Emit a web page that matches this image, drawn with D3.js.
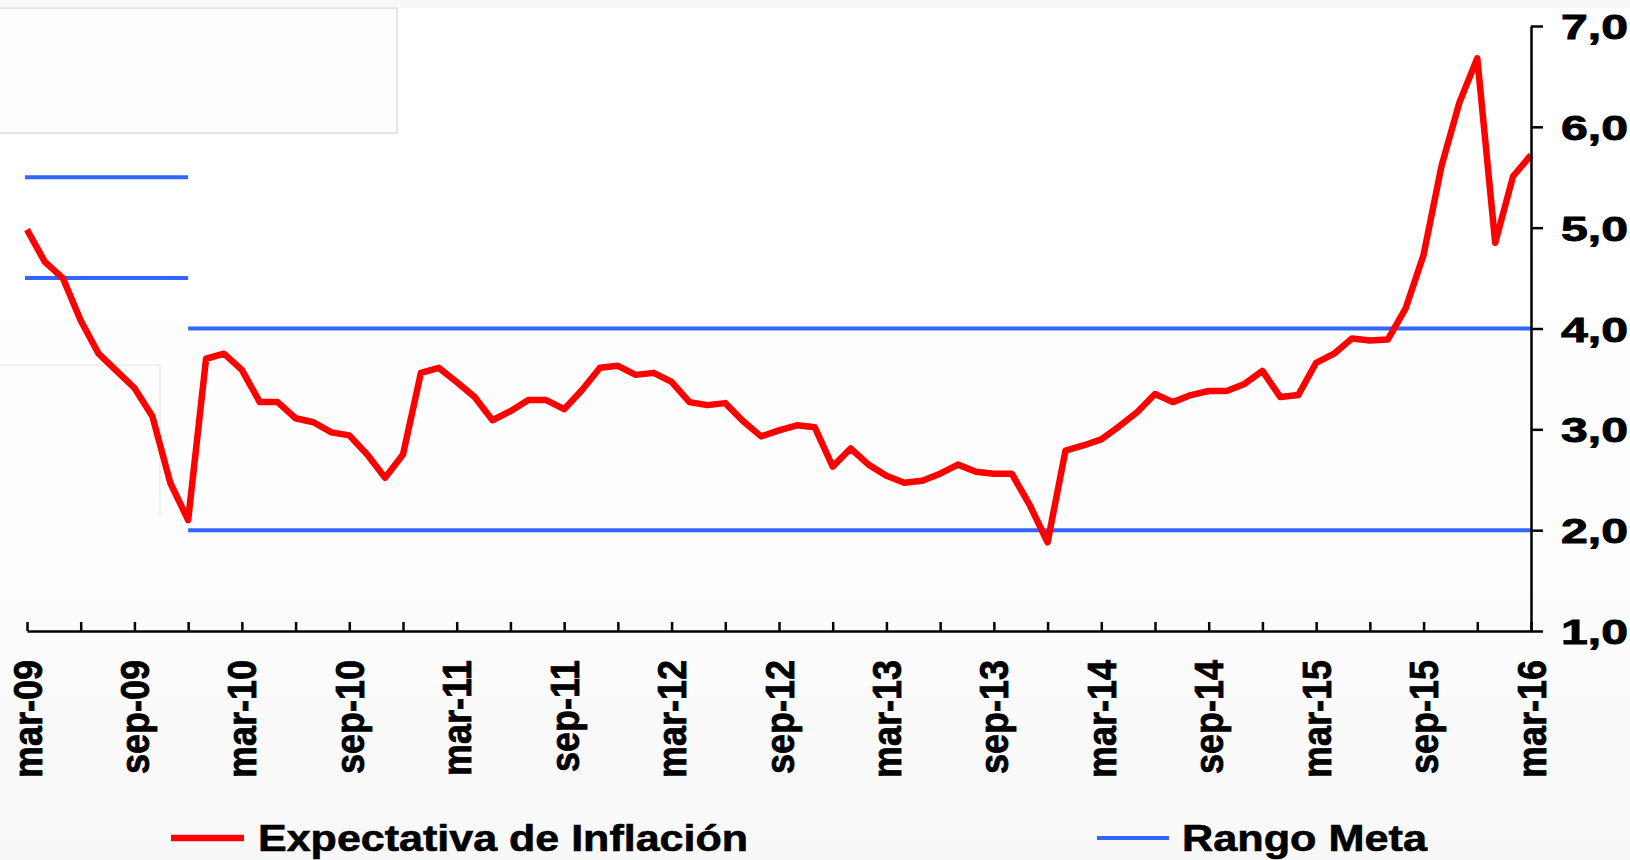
<!DOCTYPE html>
<html>
<head>
<meta charset="utf-8">
<script src="https://cdn.jsdelivr.net/npm/d3@7"></script>
<style>
  html, body { margin: 0; padding: 0; background: #ffffff; }
  svg { display: block; font-family: "Liberation Sans", Arial, sans-serif; }
</style>
</head>
<body>
<svg id="chart" width="1630" height="860"></svg>
<script>
// ---------------- DATA ----------------
const startDate = new Date(2009, 2, 1);   // mar-09
const endDate   = new Date(2016, 2, 1);   // mar-16
const months = d3.timeMonth.range(startDate, d3.timeMonth.offset(endDate, 1)); // 85 monthly categories

const expectativa = [
  4.98, 4.66, 4.50, 4.08, 3.75, 3.58, 3.41, 3.13, 2.47, 2.10,
  3.70, 3.75, 3.59, 3.27, 3.27, 3.11, 3.07, 2.97, 2.94, 2.75,
  2.52, 2.75, 3.56, 3.61, 3.47, 3.32, 3.09, 3.18, 3.29, 3.29,
  3.20, 3.39, 3.61, 3.63, 3.54, 3.56, 3.47, 3.27, 3.24, 3.26,
  3.08, 2.93, 2.99, 3.04, 3.02, 2.63, 2.81, 2.65, 2.54, 2.47,
  2.49, 2.56, 2.65, 2.58, 2.56, 2.56, 2.25, 1.88, 2.79, 2.84,
  2.90, 3.03, 3.17, 3.35, 3.27, 3.34, 3.38, 3.38, 3.45, 3.58,
  3.32, 3.34, 3.66, 3.75, 3.90, 3.88, 3.89, 4.20, 4.73, 5.61,
  6.24, 6.68, 4.85, 5.51, 5.72
];

// Rango Meta (target range) segments
const metaStart = [0, 9];      // month index where segment starts (mar-09, dic-09)
const metaEnd   = [9, 84];     // month index where segment ends   (dic-09, mar-16)
const metaLow   = [4.5, 2.0];
const metaHigh  = [5.5, 4.0];

const yTicks = [1, 2, 3, 4, 5, 6, 7];
const xTickLabels = ["mar-09","sep-09","mar-10","sep-10","mar-11","sep-11","mar-12",
                     "sep-12","mar-13","sep-13","mar-14","sep-14","mar-15","sep-15","mar-16"];
const legendLabels = ["Expectativa de Inflación", "Rango Meta"];

// ---------------- LAYOUT ----------------
const svg = d3.select("#chart");
const RED = "#FF0000", BLUE = "#3366FF";

const defs = svg.append("defs");
const grad = defs.append("linearGradient").attr("id", "bg").attr("x1", 0).attr("y1", 0).attr("x2", 0).attr("y2", 1);
grad.append("stop").attr("offset", "0%").attr("stop-color", "#ffffff");
grad.append("stop").attr("offset", "55%").attr("stop-color", "#fefefe");
grad.append("stop").attr("offset", "100%").attr("stop-color", "#f8f8f8");

svg.append("rect").attr("width", 1630).attr("height", 860).attr("fill", "url(#bg)");
// faint top strip and ghost frames
svg.append("rect").attr("x", 0).attr("y", 0).attr("width", 1630).attr("height", 8).attr("fill", "#f8f8f8");
svg.append("rect").attr("x", -4).attr("y", 8).attr("width", 401).attr("height", 125)
  .attr("fill", "#fdfdfd").attr("stroke", "#e6e6e6").attr("stroke-width", 2);
svg.append("path").attr("d", "M0,365 H160 V517")
  .attr("fill", "none").attr("stroke", "#ececec").attr("stroke-width", 1.5);

const idx = months.map((d, i) => i);
const x = d3.scalePoint().domain(idx).range([27, 1531]);
const y = d3.scaleLinear().domain([1, 7]).range([631, 26]);

// Rango Meta lines
const metaG = svg.append("g");
metaStart.forEach((s, i) => {
  [metaLow[i], metaHigh[i]].forEach(v => {
    metaG.append("line")
      .attr("x1", i === 0 ? 25 : x(s)).attr("x2", x(metaEnd[i]))
      .attr("y1", y(v)).attr("y2", y(v))
      .attr("stroke", BLUE).attr("stroke-width", 4);
  });
});

// Expectativa line
const line = d3.line().x((d, i) => x(i)).y(d => y(d));
svg.append("path")
  .datum(expectativa)
  .attr("d", line)
  .attr("fill", "none")
  .attr("stroke", RED)
  .attr("stroke-width", 6.5)
  .attr("stroke-linejoin", "round");

// X axis (ticks point up, every quarter)
const quarterIdx = idx.filter(i => i % 3 === 0);
const xAxis = d3.axisBottom(x)
  .tickValues(quarterIdx)
  .tickSize(-9)
  .tickSizeOuter(0)
  .tickFormat(i => i % 6 === 0 ? xTickLabels[i / 6] : "");
const gx = svg.append("g").attr("transform", "translate(0,631)").call(xAxis);
gx.select(".domain").attr("stroke", "#000").attr("stroke-width", 2.5);
gx.selectAll(".tick line").attr("stroke", "#000").attr("stroke-width", 2.5);
gx.selectAll(".tick text")
  .attr("fill", "#000")
  .attr("stroke", "#000").attr("stroke-width", 0.7)
  .attr("font-size", 36)
  .attr("font-weight", "bold")
  .attr("font-family", "'Liberation Sans', Arial, sans-serif")
  .attr("text-anchor", "end")
  .attr("x", 0).attr("y", 0).attr("dy", 0)
  .attr("transform", "translate(14,29) scale(1.12,1) rotate(-90)");

// Y axis on the right
const yAxis = d3.axisRight(y)
  .tickValues(yTicks)
  .tickSize(12)
  .tickSizeOuter(0)
  .tickFormat(d => d3.format(".1f")(d).replace(".", ","));
const gy = svg.append("g").attr("transform", "translate(1531,0)").call(yAxis);
gy.select(".domain").attr("stroke", "#000").attr("stroke-width", 2.5);
gy.selectAll(".tick line").attr("stroke", "#000").attr("stroke-width", 2.5);
gy.selectAll(".tick text")
  .attr("fill", "#000")
  .attr("stroke", "#000").attr("stroke-width", 0.9)
  .attr("font-size", 35)
  .attr("font-weight", "bold")
  .attr("font-family", "'Liberation Sans', Arial, sans-serif")
  .attr("x", 30).attr("dy", 0).attr("y", 12.5)
  .attr("textLength", 67)
  .attr("lengthAdjust", "spacingAndGlyphs");

// Legend
const legend = svg.append("g");
const legendItems = [
  { label: legendLabels[0], color: RED, w: 6.5, x1: 171, x2: 244, tx: 258, tl: 490 },
  { label: legendLabels[1], color: BLUE, w: 4, x1: 1097, x2: 1169, tx: 1182, tl: 245 }
];
legendItems.forEach(it => {
  legend.append("line").attr("x1", it.x1).attr("x2", it.x2).attr("y1", 838).attr("y2", 838)
    .attr("stroke", it.color).attr("stroke-width", it.w);
  legend.append("text").attr("x", it.tx).attr("y", 851)
    .attr("font-size", 36).attr("font-weight", "bold").attr("fill", "#000")
    .attr("stroke", "#000").attr("stroke-width", 0.6)
    .attr("textLength", it.tl).attr("lengthAdjust", "spacingAndGlyphs")
    .text(it.label);
});
</script>
</body>
</html>
